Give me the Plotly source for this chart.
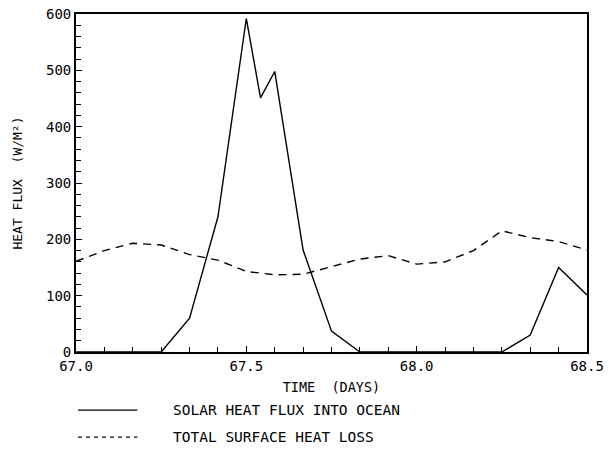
import plotly.graph_objects as go

# Hours after day 67.0 and the corresponding fluxes (W/m^2)
solar_hours = [0, 6, 8, 10, 12, 13, 14, 16, 18, 20, 30, 32, 34, 36]
solar_flux = [0, 0, 60, 240, 592, 451, 498, 181, 37, 0, 0, 30, 150, 101]

loss_hours = [0, 2, 4, 6, 8, 10, 12, 14, 16, 18, 20, 22, 24, 26, 28, 30, 32, 34, 36]
loss_flux = [161, 180, 193, 190, 173, 163, 143, 137, 138, 152, 165, 171, 156, 160, 180, 215, 203, 196, 181]

start_day = 67.0
solar_days = [start_day + h / 24 for h in solar_hours]
loss_days = [start_day + h / 24 for h in loss_hours]

x_ticks = [67.0, 67.5, 68.0, 68.5]
x_tick_text = ["67.0", "67.5", "68.0", "68.5"]
y_ticks = [0, 100, 200, 300, 400, 500, 600]

legend_labels = ["SOLAR HEAT FLUX INTO OCEAN", "TOTAL SURFACE HEAT LOSS"]

FONT = "DejaVu Sans Mono"

fig = go.Figure()
fig.add_trace(go.Scatter(x=solar_days, y=solar_flux, mode="lines",
                         line=dict(color="black", width=1.4),
                         name=legend_labels[0], showlegend=False))
fig.add_trace(go.Scatter(x=loss_days, y=loss_flux, mode="lines",
                         line=dict(color="black", width=1.4, dash="8px,6px"),
                         name=legend_labels[1], showlegend=False))

axis_common = dict(showgrid=False, zeroline=False, showline=True,
                   linecolor="black", linewidth=1.8, mirror=True,
                   ticks="inside", ticklen=6, tickwidth=1.2, tickcolor="black",
                   automargin=False,
                   tickfont=dict(family=FONT, size=14, color="black"))

fig.update_xaxes(range=[67.0, 68.5], tickvals=x_ticks, ticktext=x_tick_text,
                 minor=dict(dtick=1 / 12, tick0=67.0, ticks="inside", ticklen=5,
                            tickcolor="black", tickwidth=1.2),
                 title=dict(text="TIME  (DAYS)", font=dict(family=FONT, size=13.5, color="black"),
                            standoff=10),
                 **axis_common)
fig.update_yaxes(range=[0, 600], tickvals=y_ticks,
                 minor=dict(dtick=20, ticks="inside", ticklen=5,
                            tickcolor="black", tickwidth=1.2),
                 title=dict(text="HEAT FLUX  (W/M²)", font=dict(family=FONT, size=13, color="black"),
                            standoff=20),
                 **axis_common)

# Hand-drawn legend below the axes
legend_y = [-0.172, -0.252]
dashes = ["solid", "4px,4px"]
for label, yy, dsh in zip(legend_labels, legend_y, dashes):
    fig.add_shape(type="line", xref="paper", yref="paper",
                  x0=0.004, x1=0.12, y0=yy, y1=yy,
                  line=dict(color="black", width=1.3, dash=dsh))
    fig.add_annotation(xref="paper", yref="paper", x=0.185, y=yy,
                       text=label, showarrow=False, xanchor="left", yanchor="middle",
                       font=dict(family=FONT, size=14.5, color="black"))

fig.update_layout(width=609, height=452,
                  margin=dict(l=76, r=22, t=14, b=100),
                  plot_bgcolor="white", paper_bgcolor="white")

fig.write_html("out.html")
